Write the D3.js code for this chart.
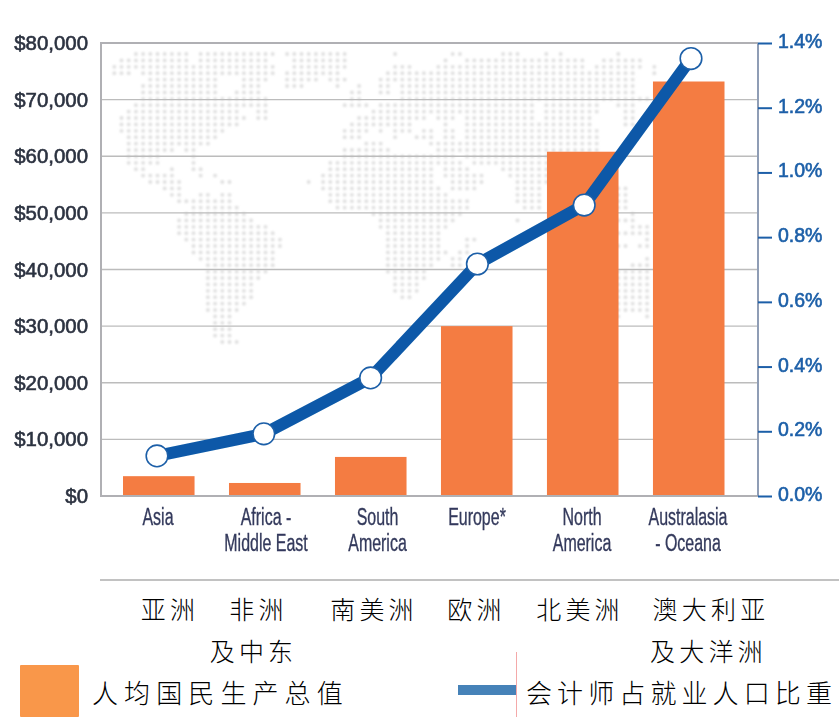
<!DOCTYPE html>
<html><head><meta charset="utf-8">
<script src="https://cdn.jsdelivr.net/npm/d3@7"></script>
<style>html,body{margin:0;padding:0;background:#fff;overflow:hidden}svg{display:block}</style>
</head><body><svg id="c" width="839" height="717"></svg>
<script>
const categoriesEn=[["Asia"],["Africa -","Middle East"],["South","America"],["Europe*"],["North","America"],["Australasia","- Oceana"]];
const categoriesZh=[["亚洲"],["非洲","及中东"],["南美洲"],["欧洲"],["北美洲"],["澳大利亚","及大洋洲"]];
const gnpPerCapita=[3500,2300,6900,30000,60800,73200];
const accountantShare=[0.124,0.192,0.365,0.717,0.899,1.352];
const leftTicks=[0,10000,20000,30000,40000,50000,60000,70000,80000];
const rightTicks=[0,0.2,0.4,0.6,0.8,1.0,1.2,1.4];
const legendBar="人均国民生产总值";
const legendLine="会计师占就业人口比重";
// world-map backdrop: per row, runs of dot columns [from,to]
const mapRuns=[
[[3,10],[12,22],[24,32],[39,39],[47,48],[54,56],[60,60],[62,62],[70,70]],
[[1,10],[12,21],[25,32],[46,46],[49,65],[68,73]],
[[0,22],[25,32],[39,41],[45,65],[67,73],[75,75]],
[[0,2],[4,22],[24,31],[38,72],[75,75]],
[[5,14],[18,21],[24,28],[30,32],[37,72]],
[[4,14],[18,20],[24,26],[31,31],[34,34],[37,38],[40,72]],
[[4,14],[17,20],[33,34],[37,38],[40,72]],
[[4,21],[33,34],[40,74]],
[[3,21],[32,35],[37,58],[60,67],[70,72]],
[[2,17],[20,21],[36,58],[60,67],[71,72]],
[[1,18],[20,21],[34,43],[45,47],[49,58],[60,66],[71,72]],
[[1,17],[33,41],[46,46],[49,66],[71,72]],
[[1,15],[32,35],[37,37],[39,41],[43,44],[46,47],[49,67]],
[[2,14],[32,34],[39,39],[42,44],[46,47],[49,67]],
[[2,13],[35,37],[44,67]],
[[2,8],[10,11],[32,38],[45,67]],
[[2,6],[11,11],[32,47],[49,60]],
[[2,6],[11,11],[30,44],[45,48],[50,60]],
[[3,4],[8,8],[11,12],[30,44],[46,49],[54,60]],
[[4,8],[12,12],[14,14],[29,44],[46,51],[55,60]],
[[5,9],[15,16],[27,27],[29,44],[47,51],[56,60]],
[[7,9],[29,45],[47,50],[56,59],[70,71]],
[[8,9],[12,13],[15,16],[30,46],[56,59],[70,71]],
[[9,16],[30,49],[56,59],[70,71]],
[[11,17],[31,49],[57,59],[70,71]],
[[10,18],[36,48],[72,72]],
[[9,19],[37,47],[56,56],[70,72]],
[[9,21],[37,46],[72,74]],
[[9,22],[38,45],[70,74]],
[[10,23],[38,45],[49,50],[74,74]],
[[11,23],[38,45],[49,49],[70,71],[73,74]],
[[11,22],[38,46],[48,49]],
[[12,22],[38,45],[47,48],[74,74]],
[[13,22],[38,44],[47,48],[72,74]],
[[13,21],[38,43],[70,74]],
[[13,20],[39,43],[70,74]],
[[13,19],[39,42],[70,74]],
[[13,19],[39,42],[70,74]],
[[13,19],[40,41],[70,74]],
[[13,18],[70,74]],
[[13,17],[70,74]],
[[14,16],[70,70],[74,74]],
[[14,16]],
[[14,16]],
[[14,16]],
[[15,17]]
];

const svg=d3.select("#c");
const defs=svg.append("defs");
const soft=(id,s)=>defs.append("filter").attr("id",id).attr("x","-5%").attr("y","-5%").attr("width","110%").attr("height","110%")
  .append("feGaussianBlur").attr("stdDeviation",s);
soft("soft",0.6); soft("softer",0.8);
const chart=svg.append("g").attr("filter","url(#soft)");

const L=101,R=758,T=43,B=496;
const sans="'Liberation Sans',Arial,sans-serif";
const cjk="'Noto Sans CJK SC','Noto Sans CJK JP',sans-serif";
const yL=d3.scaleLinear().domain([0,80000]).range([B,T]);
const yR=d3.scaleLinear().domain([0,1.4]).range([B,T]);
const x=d3.scaleBand().domain(d3.range(6)).range([123,724.5]).paddingInner(0.325).paddingOuter(0);
const xLine=d3.scalePoint().domain(d3.range(6)).range([157,691]);
const enCentres=[158,266,377.5,477,582,688];
const zhCentres=[[170],[258.5,253.5],[374],[476.5],[580],[711,708.5]];

// map
const mx=d3.scaleLinear().domain([0,1]).range([114.3,121.5]);
const my=d3.scaleLinear().domain([0,1]).range([54,60.4]);
const dots=[];
mapRuns.forEach((runs,r)=>runs.forEach(([a,b])=>d3.range(a,b+1).forEach(c=>dots.push([c,r]))));
svg.insert("g","g").attr("filter","url(#softer)").selectAll("circle").data(dots).join("circle")
  .attr("cx",d=>mx(d[0])).attr("cy",d=>my(d[1])).attr("r",1.9).attr("fill","#dedede");

// gridlines
chart.append("g").selectAll("line").data(leftTicks.slice(1,-1)).join("line")
  .attr("x1",L).attr("x2",R).attr("y1",d=>yL(d)).attr("y2",d=>yL(d))
  .attr("stroke","#bcbcbc").attr("stroke-width",1.4);

// bars
chart.append("g").selectAll("rect").data(gnpPerCapita).join("rect")
  .attr("x",(d,i)=>x(i)).attr("width",x.bandwidth())
  .attr("y",d=>yL(d)).attr("height",d=>B-yL(d)).attr("fill","#f47b42");

// frame
const frame=chart.append("g").attr("stroke-width",2).attr("fill","none");
frame.append("path").attr("d",d3.line()([[R,T],[L,T],[L,B],[R,B]])).attr("stroke","#b0b0b4");
frame.append("line").attr("x1",R).attr("x2",R).attr("y1",T).attr("y2",B).attr("stroke","#8f9db5");

// axes
const gl=chart.append("g").attr("transform",`translate(${L},0)`)
  .call(d3.axisLeft(yL).tickValues(leftTicks).tickSize(0).tickPadding(13).tickFormat(d=>"$"+d3.format(",")(d)));
gl.select(".domain").remove();
gl.selectAll("text").attr("font-family",sans).attr("font-size",20.4).attr("fill","#2c3240")
  .attr("stroke","#2c3240").attr("stroke-width",0.6);
const gr=chart.append("g").attr("transform",`translate(${R},0)`)
  .call(d3.axisRight(yR).tickValues(rightTicks).tickSize(14).tickPadding(6).tickFormat(d=>d3.format(".1f")(d)+"%"));
gr.select(".domain").remove();
gr.selectAll("line").attr("stroke","#1c5fa8").attr("stroke-width",2);
gr.selectAll("text").attr("font-family",sans).attr("font-size",19.5).attr("fill","#1c5fa8")
  .attr("stroke","#1c5fa8").attr("stroke-width",0.6).attr("dy","0.23em");

// English categories, condensed
const en=chart.append("g").selectAll("text").data(categoriesEn).join("text")
  .attr("transform",(d,i)=>`translate(${enCentres[i]},0) scale(0.68,1)`)
  .attr("text-anchor","middle").attr("font-family",sans).attr("font-size",23.5)
  .attr("fill","#343a5c").attr("stroke","#343a5c").attr("stroke-width",0.35);
en.each(function(lines){
  d3.select(this).selectAll("tspan").data(lines).join("tspan")
    .attr("x",0).attr("y",(d,j)=>525+j*26).text(d=>d);
});

// line & markers
const pts=accountantShare.map((v,i)=>[xLine(i),yR(v)]);
chart.append("path").attr("d",d3.line()(pts)).attr("fill","none").attr("stroke","#0a59a8")
  .attr("stroke-width",12).attr("stroke-linejoin","round");
chart.append("g").selectAll("circle").data(pts).join("circle")
  .attr("cx",d=>d[0]).attr("cy",d=>d[1]).attr("r",10.8).attr("fill","#fff")
  .attr("stroke","#1c5fa8").attr("stroke-width",1.6);

// lower part
svg.append("line").attr("x1",100).attr("x2",839).attr("y1",580).attr("y2",580).attr("stroke","#c2c2c2").attr("stroke-width",2);
const zh=svg.append("g").selectAll("text").data(categoriesZh).join("text")
  .attr("font-family",cjk).attr("font-weight",300).attr("font-size",25).attr("fill","#000")
  .attr("letter-spacing",4.2).attr("text-anchor","middle");
zh.each(function(lines,i){
  d3.select(this).selectAll("tspan").data(lines).join("tspan")
    .attr("x",(d,j)=>zhCentres[i][j]).attr("y",(d,j)=>619+j*42).text(d=>d);
});
svg.append("rect").attr("x",20).attr("y",665).attr("width",59).attr("height",52).attr("rx",1).attr("fill","#f9974a");
svg.append("text").attr("x",92).attr("y",703).attr("font-family",cjk).attr("font-weight",300).attr("font-size",26)
  .attr("letter-spacing",6.1).attr("fill","#000").text(legendBar);
svg.append("line").attr("x1",458).attr("x2",517).attr("y1",690).attr("y2",690).attr("stroke","#4682b8").attr("stroke-width",10);
svg.append("line").attr("x1",516.5).attr("x2",516.5).attr("y1",652).attr("y2",717).attr("stroke","#f4a9a9").attr("stroke-width",1);
svg.append("text").attr("x",526).attr("y",703).attr("font-family",cjk).attr("font-weight",300).attr("font-size",26)
  .attr("letter-spacing",5.1).attr("fill","#000").text(legendLine);
</script></body></html>
